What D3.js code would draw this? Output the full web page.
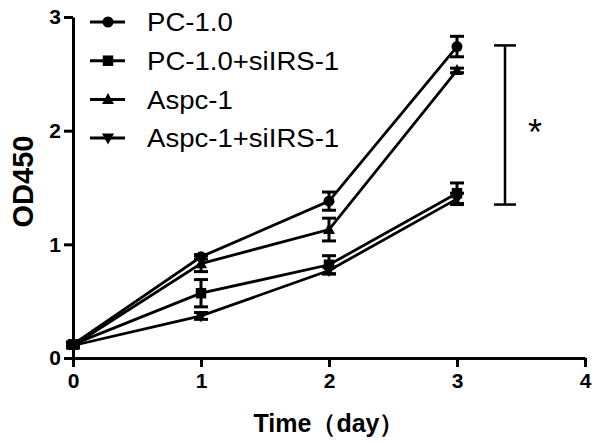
<!DOCTYPE html>
<html><head><meta charset="utf-8">
<script src="https://cdn.jsdelivr.net/npm/d3@7"></script>
<style>
html,body{margin:0;padding:0;background:#fff;}
svg{display:block;}
</style>
</head><body>
<svg id="chart" width="600" height="444"></svg>
<script>
const days = [0, 1, 2, 3];
const xTicks = [0, 1, 2, 3, 4];
const yTicks = [0, 1, 2, 3];
const seriesNames = ["PC-1.0", "PC-1.0+siIRS-1", "Aspc-1", "Aspc-1+siIRS-1"];
const seriesSymbols = ["circle", "square", "triangle", "triangleDown"];
const pc10 = [0.12, 0.89, 1.38, 2.74];
const pc10Err = [0.02, 0.02, 0.08, 0.09];
const pc10si = [0.12, 0.57, 0.82, 1.45];
const pc10siErr = [0.02, 0.12, 0.08, 0.09];
const aspc = [0.11, 0.83, 1.13, 2.53];
const aspcErr = [0.02, 0.07, 0.1, 0.02];
const aspcSi = [0.11, 0.37, 0.77, 1.40];
const aspcSiErr = [0.02, 0.03, 0.03, 0.05];
const sigBracket = {x: 3.375, y0: 1.35, y1: 2.75, label: "*"};
const xTitle = "Time（day）";
const yTitle = "OD450";

const values = [pc10, pc10si, aspc, aspcSi];
const errors = [pc10Err, pc10siErr, aspcErr, aspcSiErr];

const svg = d3.select("#chart");
const x = d3.scaleLinear().domain([0, 4]).range([73, 585]);
const y = d3.scaleLinear().domain([0, 3]).range([358, 17]);
const font = "'Liberation Sans', Arial, sans-serif";

// axes
const xAxis = svg.append("g").attr("transform", `translate(0,${y(0)})`)
  .call(d3.axisBottom(x).tickValues(xTicks).tickSize(9).tickSizeOuter(0).tickPadding(6).tickFormat(d3.format("d")));
const yAxis = svg.append("g").attr("transform", `translate(${x(0)},0)`)
  .call(d3.axisLeft(y).tickValues(yTicks).tickSize(9).tickSizeOuter(0).tickPadding(3).tickFormat(d3.format("d")));
[xAxis, yAxis].forEach(a => {
  a.selectAll("path,line").attr("stroke", "#000").attr("stroke-width", 3);
  a.selectAll("text").attr("fill", "#000").attr("font-family", font)
    .attr("font-weight", "bold").attr("font-size", 21);
});

// titles
svg.append("text").attr("x", (x(0) + x(4)) / 2).attr("y", 432)
  .attr("text-anchor", "middle").attr("font-family", font).attr("font-weight", "bold")
  .attr("font-size", 25).attr("fill", "#000").text(xTitle);
svg.append("text").attr("transform", `translate(33,${(y(0) + y(3)) / 2 - 6}) rotate(-90)`)
  .attr("text-anchor", "middle").attr("font-family", font).attr("font-weight", "bold")
  .attr("font-size", 29).attr("fill", "#000").text(yTitle);

function symbolPath(kind) {
  switch (kind) {
    case "circle": return d3.symbol().type(d3.symbolCircle).size(95)();
    case "square": return d3.symbol().type(d3.symbolSquare).size(110)();
    case "triangle": return "M0,-6.5L6,4.5L-6,4.5Z";
    case "triangleDown": return "M0,6.5L6,-4.5L-6,-4.5Z";
  }
}

const line = d3.line().x(d => x(d[0])).y(d => y(d[1]));
const capW = 7;

values.forEach((vals, i) => {
  const pts = days.map((d, j) => [d, vals[j], errors[i][j]]);
  const g = svg.append("g");
  g.append("path").datum(pts).attr("d", line).attr("fill", "none")
    .attr("stroke", "#000").attr("stroke-width", 2.8);
  const eb = g.selectAll(".eb").data(pts).enter().append("g");
  eb.append("line").attr("x1", d => x(d[0])).attr("x2", d => x(d[0]))
    .attr("y1", d => y(d[1] - d[2])).attr("y2", d => y(d[1] + d[2]))
    .attr("stroke", "#000").attr("stroke-width", 3);
  eb.append("line").attr("x1", d => x(d[0]) - capW).attr("x2", d => x(d[0]) + capW)
    .attr("y1", d => y(d[1] + d[2])).attr("y2", d => y(d[1] + d[2]))
    .attr("stroke", "#000").attr("stroke-width", 3);
  eb.append("line").attr("x1", d => x(d[0]) - capW).attr("x2", d => x(d[0]) + capW)
    .attr("y1", d => y(d[1] - d[2])).attr("y2", d => y(d[1] - d[2]))
    .attr("stroke", "#000").attr("stroke-width", 3);
  g.selectAll(".m").data(pts).enter().append("path")
    .attr("transform", d => `translate(${x(d[0])},${y(d[1])})`)
    .attr("d", symbolPath(seriesSymbols[i])).attr("fill", "#000");
});

// significance bracket
const bx = x(sigBracket.x);
svg.append("line").attr("x1", bx).attr("x2", bx).attr("y1", y(sigBracket.y0)).attr("y2", y(sigBracket.y1))
  .attr("stroke", "#000").attr("stroke-width", 2.5);
[sigBracket.y0, sigBracket.y1].forEach(v => {
  svg.append("line").attr("x1", bx - 11).attr("x2", bx + 11).attr("y1", y(v)).attr("y2", y(v))
    .attr("stroke", "#000").attr("stroke-width", 2.5);
});
svg.append("text").attr("x", bx + 30).attr("y", (y(sigBracket.y0) + y(sigBracket.y1)) / 2 + 20)
  .attr("text-anchor", "middle").attr("font-family", font).attr("font-size", 36)
  .attr("fill", "#000").text(sigBracket.label);

// legend
const legY0 = 22, legDY = 38.7;
seriesNames.forEach((name, i) => {
  const ly = legY0 + i * legDY;
  const g = svg.append("g").attr("transform", `translate(0,${ly})`);
  g.append("line").attr("x1", 90).attr("x2", 125).attr("y1", 0).attr("y2", 0)
    .attr("stroke", "#000").attr("stroke-width", 3);
  g.append("path").attr("transform", "translate(108,0)").attr("d", symbolPath(seriesSymbols[i])).attr("fill", "#000");
  g.append("text").attr("transform", "translate(147,0) scale(1.06,1)").attr("dy", "0.36em")
    .attr("font-family", font).attr("font-size", 26).attr("fill", "#000").text(name);
});
</script>
</body></html>
